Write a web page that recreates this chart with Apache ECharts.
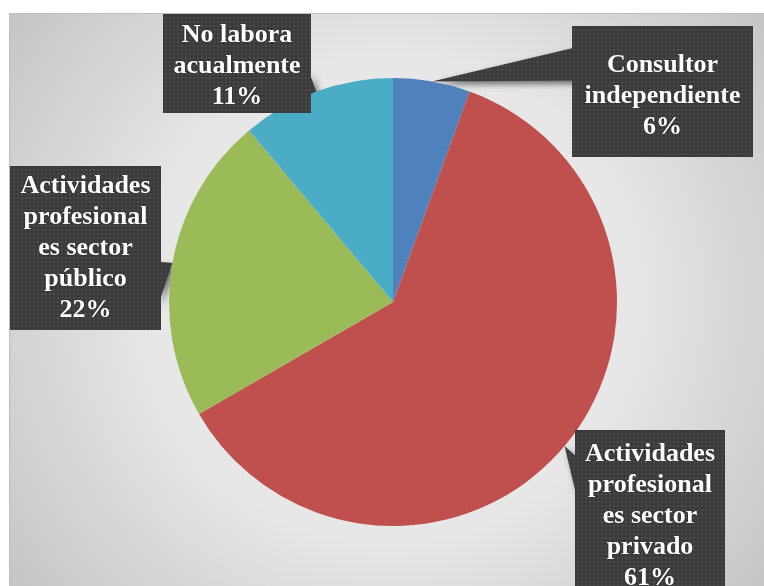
<!DOCTYPE html>
<html>
<head>
<meta charset="utf-8">
<script src="https://cdn.jsdelivr.net/npm/echarts@6/dist/echarts.min.js"></script>
<style>
  html, body { margin: 0; padding: 0; background: #ffffff; }
  #chart { width: 764px; height: 586px; }
</style>
</head>
<body>
<div id="chart"></div>
<script>
// Occupational situation of respondents (counts per group)
const categories = [
  'Consultor independiente',
  'Actividades profesionales sector privado',
  'Actividades profesionales sector público',
  'No labora acualmente'
];
const labelText = [
  'Consultor\nindependiente',
  'Actividades\nprofesional\nes sector\nprivado',
  'Actividades\nprofesional\nes sector\npúblico',
  'No labora\nacualmente'
];
const counts = [2, 22, 8, 4];
const colors = ['#4F81BD', '#C0504D', '#9BBB59', '#4BACC6'];

// Pie geometry (pixels)
const CX = 393, CY = 302, R = 224;

// Callout boxes: top-left corner, text width, padding
const boxes = [
  { x: 572, y: 26,  w: 161, pad: [24, 10, 14, 10] },
  { x: 575, y: 430, w: 130, pad: [9, 10, 0, 10] },
  { x: 10,  y: 166, w: 131, pad: [5, 10, 4, 10] },
  { x: 163, y: 14,  w: 128, pad: [6, 10, 0, 10] }
];
const FONT_SIZE = 26, LINE_H = 31;

const BOX_FILL = '#3b3b3b', DOT_FILL = '#4b4b4b', PERIOD = 4;

// Dotted dark texture, aligned to page coordinates
function texture(w, h, ox, oy) {
  const c = document.createElement('canvas');
  c.width = Math.max(1, Math.round(w));
  c.height = Math.max(1, Math.round(h));
  const g = c.getContext('2d');
  g.fillStyle = BOX_FILL;
  g.fillRect(0, 0, c.width, c.height);
  g.fillStyle = DOT_FILL;
  const sx = ((1 - ox) % PERIOD + PERIOD) % PERIOD;
  const sy = ((1 - oy) % PERIOD + PERIOD) % PERIOD;
  for (let y = sy; y < c.height; y += PERIOD) {
    for (let x = sx; x < c.width; x += PERIOD) {
      g.fillRect(x, y, 2, 2);
    }
  }
  return c;
}

// Outer size of each callout box
const boxSize = boxes.map((b, i) => {
  const lines = labelText[i].split('\n').length + 1;
  return {
    w: b.w + b.pad[1] + b.pad[3],
    h: lines * LINE_H + b.pad[0] + b.pad[2]
  };
});

// Mid-angle point of each slice on the rim (clockwise from 12 o'clock)
const total = counts.reduce((a, b) => a + b, 0);
let acc = 0;
const tips = counts.map(v => {
  const mid = (acc + v / 2) / total * 2 * Math.PI;
  acc += v;
  return [CX + R * Math.sin(mid), CY - R * Math.cos(mid)];
});

// Callout pointer following the wedge-rectangle callout geometry
function pointer(i) {
  const b = boxes[i], s = boxSize[i], t = tips[i];
  const hc = b.x + s.w / 2, vc = b.y + s.h / 2;
  const dx = t[0] - hc, dy = t[1] - vc;
  const dq = dx * s.h / s.w;
  if (Math.abs(dy) - Math.abs(dq) <= 0) {
    const xs = dx < 0 ? b.x + 2 : b.x + s.w - 2;
    const y1 = b.y + s.h * (dy > 0 ? 7 : 2) / 12;
    const y2 = b.y + s.h * (dy > 0 ? 10 : 5) / 12;
    return [[xs, y1], t, [xs, y2]];
  }
  const ys = dy < 0 ? b.y + 2 : b.y + s.h - 2;
  const x1 = b.x + s.w * (dx > 0 ? 7 : 2) / 12;
  const x2 = b.x + s.w * (dx > 0 ? 10 : 5) / 12;
  return [[x1, ys], t, [x2, ys]];
}

const tile = texture(PERIOD, PERIOD, 0, 0);
const SHADOW = { shadowBlur: 6, shadowColor: 'rgba(0,0,0,0.55)', shadowOffsetX: 3, shadowOffsetY: 3 };

const seriesData = categories.map((name, i) => ({
  name: name,
  value: counts[i],
  itemStyle: { color: colors[i] },
  label: {
    width: boxes[i].w,
    padding: boxes[i].pad,
    backgroundColor: { image: texture(boxSize[i].w, boxSize[i].h, boxes[i].x, boxes[i].y) }
  }
}));

const chart = echarts.init(document.getElementById('chart'), null, { renderer: 'canvas' });

chart.setOption({
  backgroundColor: '#ffffff',
  animation: false,
  graphic: [
    {
      type: 'rect',
      z: 0,
      shape: { x: 9.5, y: 13.5, width: 800, height: 620 },
      style: {
        fill: new echarts.graphic.RadialGradient(390, 300, 490, [
          { offset: 0, color: '#f6f6f6' },
          { offset: 0.5, color: '#e6e6e6' },
          { offset: 1, color: '#c3c3c3' }
        ], true),
        stroke: '#bdbdbd',
        lineWidth: 1
      },
      silent: true
    }
  ].concat(counts.map((v, i) => ({
    type: 'polygon',
    z: 1,
    shape: { points: pointer(i) },
    style: Object.assign({ fill: { image: tile, repeat: 'repeat' } }, SHADOW),
    silent: true
  }))),
  series: [{
    type: 'pie',
    center: [CX, CY],
    radius: R,
    startAngle: 90,
    clockwise: true,
    avoidLabelOverlap: false,
    percentPrecision: 0,
    emphasis: { disabled: true },
    itemStyle: { borderWidth: 0 },
    labelLine: { show: false },
    label: {
      show: true,
      position: 'outside',
      overflow: 'none',
      color: '#ffffff',
      fontFamily: 'Liberation Serif',
      fontWeight: 'bold',
      fontSize: FONT_SIZE,
      lineHeight: LINE_H,
      align: 'center',
      textShadowColor: 'rgba(0,0,0,0.5)',
      textShadowBlur: 2,
      shadowBlur: SHADOW.shadowBlur,
      shadowColor: SHADOW.shadowColor,
      shadowOffsetX: SHADOW.shadowOffsetX,
      shadowOffsetY: SHADOW.shadowOffsetY,
      formatter: p => labelText[p.dataIndex] + '\n' + p.percent + '%'
    },
    labelLayout: p => {
      const b = boxes[p.dataIndex], s = boxSize[p.dataIndex];
      return { x: b.x + s.w / 2, y: b.y, align: 'center', verticalAlign: 'top' };
    },
    data: seriesData
  }]
});
</script>
</body>
</html>
